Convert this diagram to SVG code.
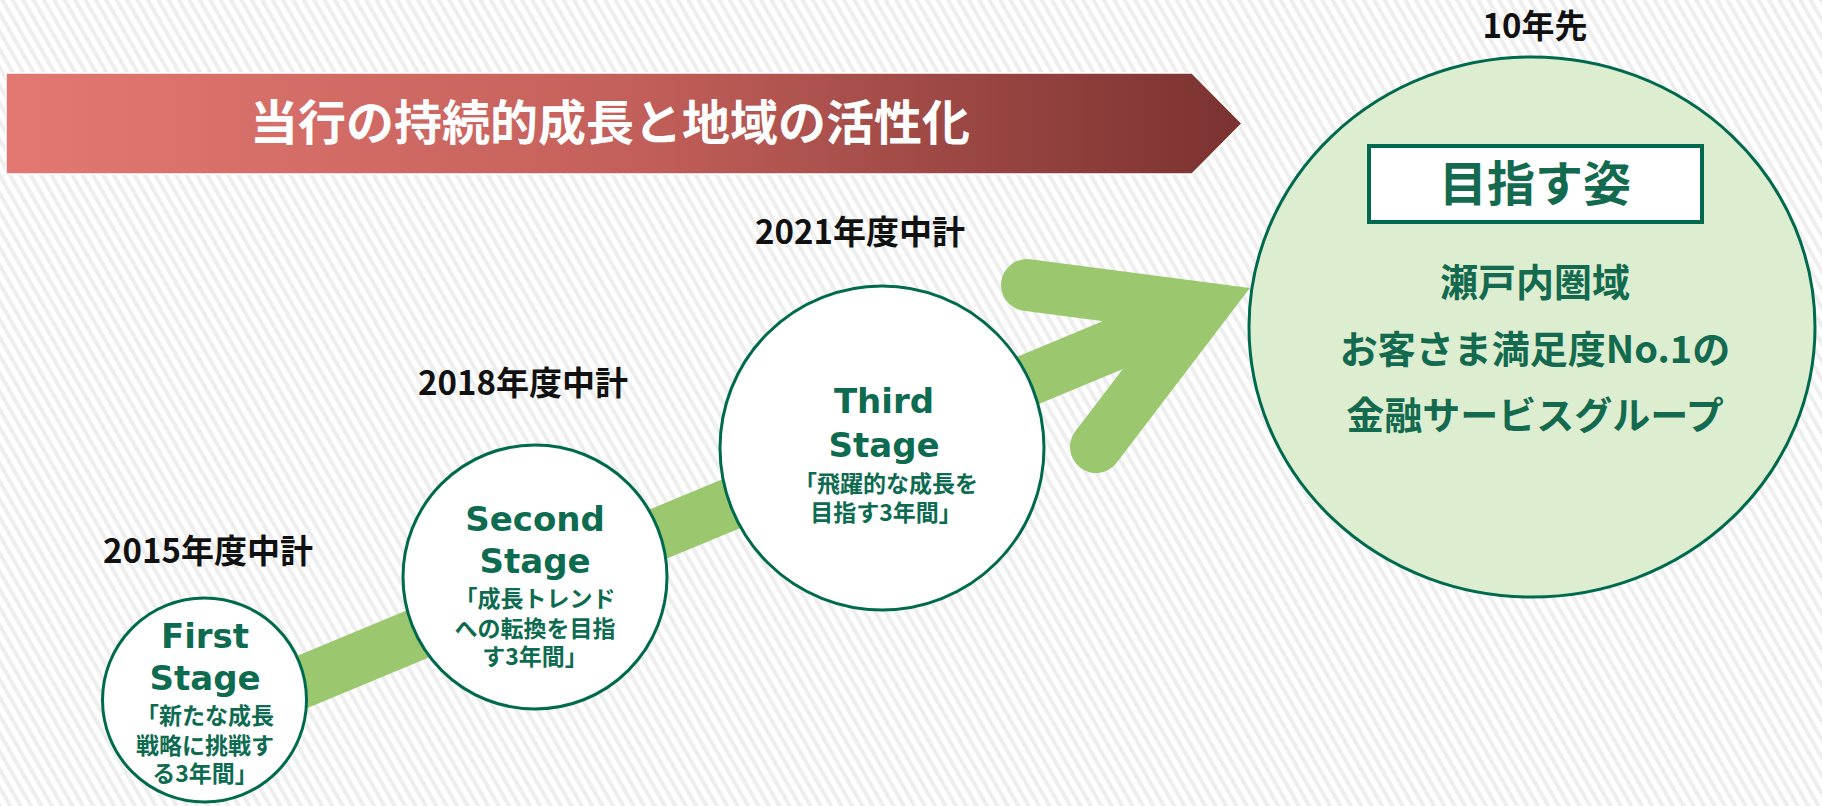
<svg xmlns="http://www.w3.org/2000/svg" width="1822" height="806" viewBox="0 0 1822 806">
  <defs>
    <pattern id="stripes" patternUnits="userSpaceOnUse" width="9" height="9" patternTransform="rotate(-30)">
      <rect x="0" y="0" width="9" height="9" fill="#ffffff"/>
      <rect x="0" y="0" width="4" height="9" fill="#eeeeee"/>
    </pattern>
    <linearGradient id="bannerGrad" x1="0" y1="0" x2="1" y2="0">
      <stop offset="0" stop-color="#e37872"/>
      <stop offset="0.5" stop-color="#c4605b"/>
      <stop offset="1" stop-color="#7a3230"/>
    </linearGradient>
    <style>
      .stage { fill: #ffffff; stroke: #006a4e; stroke-width: 3; }
      .goal { fill: #ddedd0; stroke: #006a4e; stroke-width: 3; }
      .en { font-family: "DejaVu Sans", "Noto Sans", sans-serif; font-weight: bold; font-size: 34px; fill: #0d6b50; text-anchor: middle; }
      .jp { font-family: "Noto Sans CJK JP", "Noto Sans", sans-serif; font-weight: bold; font-size: 23px; fill: #0d6b50; text-anchor: middle; }
      .lbl { font-family: "Noto Sans CJK JP", "Noto Sans", sans-serif; font-weight: bold; font-size: 33px; fill: #111111; text-anchor: middle; }
      .goaltxt { font-family: "Noto Sans CJK JP", "Noto Sans", sans-serif; font-weight: bold; font-size: 38px; fill: #136a4f; text-anchor: middle; }
      .arrow { fill: none; stroke: #9bc86e; stroke-width: 52; }
    </style>
  </defs>

  <rect x="0" y="0" width="1822" height="806" fill="url(#stripes)"/>

  <g id="banner">
    <polygon points="6,73 1192,73 1242,123.5 1192,174 6,174" fill="url(#bannerGrad)" stroke="#ffffff" stroke-width="1.5"/>
    <text x="610" y="140" font-family="Noto Sans CJK JP, Noto Sans, sans-serif" font-weight="bold" font-size="48" fill="#ffffff" text-anchor="middle">当行の持続的成長と地域の活性化</text>
  </g>

  <g id="connectors">
    <line class="arrow" x1="230" y1="712" x2="1202" y2="308"/>
    <polyline class="arrow" points="1027,285 1202,308 1096,447" stroke-linecap="round" stroke-linejoin="miter"/>
  </g>

  <g id="label-2015"><text class="lbl" x="208" y="563">2015年度中計</text></g>
  <g id="label-2018"><text class="lbl" x="523" y="395">2018年度中計</text></g>
  <g id="label-2021"><text class="lbl" x="860" y="244">2021年度中計</text></g>
  <g id="label-10y"><text class="lbl" x="1535" y="38" font-size="39">10年先</text></g>

  <g id="first-stage">
    <circle class="stage" cx="204.5" cy="700" r="102"/>
    <text class="en" x="205" y="648">First</text>
    <text class="en" x="205" y="690">Stage</text>
    <text class="jp" x="205" y="724">「新たな成長</text>
    <text class="jp" x="205" y="754">戦略に挑戦す</text>
    <text class="jp" x="205" y="782">る3年間」</text>
  </g>

  <g id="second-stage">
    <circle class="stage" cx="535" cy="577" r="132"/>
    <text class="en" x="535" y="531">Second</text>
    <text class="en" x="535" y="573">Stage</text>
    <text class="jp" x="535" y="607">「成長トレンド</text>
    <text class="jp" x="535" y="637">への転換を目指</text>
    <text class="jp" x="535" y="665">す3年間」</text>
  </g>

  <g id="third-stage">
    <circle class="stage" cx="882" cy="448" r="162"/>
    <text class="en" x="884" y="413">Third</text>
    <text class="en" x="884" y="457">Stage</text>
    <text class="jp" x="886" y="492">「飛躍的な成長を</text>
    <text class="jp" x="886" y="521">目指す3年間」</text>
  </g>

  <g id="goal">
    <ellipse class="goal" cx="1532" cy="327" rx="283" ry="270"/>
    <rect x="1369" y="146" width="333" height="76" fill="#ffffff" stroke="#006a4e" stroke-width="4"/>
    <text x="1535" y="201" font-family="Noto Sans CJK JP, Noto Sans, sans-serif" font-weight="bold" font-size="48" fill="#136a4f" text-anchor="middle">目指す姿</text>
    <text class="goaltxt" x="1535" y="296">瀬戸内圏域</text>
    <text class="goaltxt" x="1535" y="363">お客さま満足度No.1の</text>
    <text class="goaltxt" x="1535" y="429">金融サービスグループ</text>
  </g>
</svg>
